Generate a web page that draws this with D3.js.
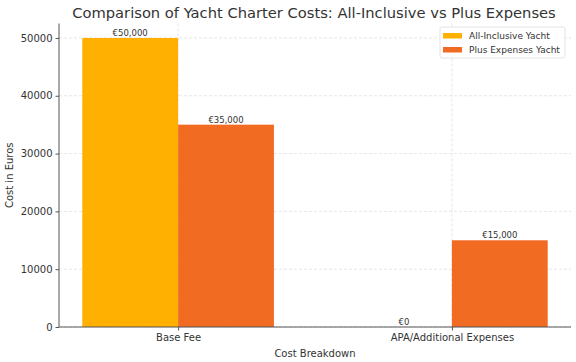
<!DOCTYPE html>
<html>
<head>
<meta charset="utf-8">
<script src="https://cdn.jsdelivr.net/npm/d3@7"></script>
<style>
  body { margin: 0; background: #fff; }
  text { font-family: "DejaVu Sans", sans-serif; fill: #333; }
</style>
</head>
<body>
<div id="chart"></div>
<script>
// Data
var categories = ["Base Fee", "APA/Additional Expenses"];
var seriesNames = ["All-Inclusive Yacht", "Plus Expenses Yacht"];
var allInclusive = [50000, 0];
var plusExpenses = [35000, 15000];
var yTicks = [0, 10000, 20000, 30000, 40000, 50000];
var colors = ["#FFB000", "#F26B22"];

var W = 576, H = 362;
var margin = {top: 23.5, right: 5, bottom: 35, left: 59},
    width = W - margin.left - margin.right,
    height = H - margin.top - margin.bottom;

var svg = d3.select("#chart").append("svg")
    .attr("width", W).attr("height", H);

var g = svg.append("g")
    .attr("transform", "translate(" + margin.left + "," + margin.top + ")");

// x in category units, bars 0.35 wide each side of center
var barW = 0.35;
var x = d3.scaleLinear().domain([-0.435, 1.435]).range([0, width]);
var y = d3.scaleLinear().domain([0, 52500]).range([height, 0]);

// grid
g.selectAll(".hgrid").data(yTicks).enter().append("line")
    .attr("x1", 0).attr("x2", width)
    .attr("y1", function(d) { return y(d); }).attr("y2", function(d) { return y(d); })
    .attr("stroke", "#ddd").attr("stroke-width", 0.7).attr("stroke-dasharray", "3,2");
g.selectAll(".vgrid").data(categories).enter().append("line")
    .attr("x1", function(d, i) { return x(i); }).attr("x2", function(d, i) { return x(i); })
    .attr("y1", 0).attr("y2", height)
    .attr("stroke", "#ddd").attr("stroke-width", 0.7).attr("stroke-dasharray", "3,2");

var series = [allInclusive, plusExpenses];
series.forEach(function(vals, s) {
  var off = s === 0 ? -barW : 0;
  g.selectAll(".bar" + s).data(vals).enter().append("rect")
      .attr("x", function(d, i) { return x(i + off); })
      .attr("width", x(barW) - x(0))
      .attr("y", function(d) { return y(d); })
      .attr("height", function(d) { return height - y(d); })
      .attr("fill", colors[s]);
  g.selectAll(".lab" + s).data(vals).enter().append("text")
      .attr("x", function(d, i) { return x(i + off + barW / 2); })
      .attr("y", function(d) { return y(d) - 2; })
      .attr("text-anchor", "middle")
      .style("font-size", "8.5px")
      .text(function(d) { return "€" + d3.format(",")(d); });
});

// axes
var yAxis = g.append("g")
    .call(d3.axisLeft(y).tickValues(yTicks).tickFormat(d3.format("d")).tickSize(3.5).tickPadding(3));
var xAxis = g.append("g")
    .attr("transform", "translate(0," + height + ")")
    .call(d3.axisBottom(x).tickValues([0, 1]).tickFormat(function(d) { return categories[d]; }).tickSize(3.5).tickPadding(3));
[yAxis, xAxis].forEach(function(a) {
  a.select(".domain").attr("stroke", "#555").attr("stroke-width", 1);
  a.selectAll(".tick line").attr("stroke", "#555");
  a.selectAll(".tick text").style("font-size", "10px").style("font-family", "DejaVu Sans").attr("fill", "#333");
});
xAxis.select(".domain").attr("d", "M0,0H" + width);
yAxis.select(".domain").attr("d", "M0," + height + "V0");

// axis titles
g.append("text")
    .attr("x", width / 2).attr("y", height + 30)
    .attr("text-anchor", "middle").style("font-size", "10px")
    .text("Cost Breakdown");
g.append("text")
    .attr("transform", "rotate(-90)")
    .attr("x", -height / 2).attr("y", -46)
    .attr("text-anchor", "middle").style("font-size", "10px")
    .text("Cost in Euros");

// title
svg.append("text")
    .attr("x", margin.left + width / 2 - 1).attr("y", 18)
    .attr("text-anchor", "middle").style("font-size", "14.7px")
    .text("Comparison of Yacht Charter Costs: All-Inclusive vs Plus Expenses");

// legend
var leg = g.append("g").attr("transform", "translate(" + (width - 131) + ",3.5)");
leg.append("rect")
    .attr("width", 125).attr("height", 31).attr("rx", 2)
    .attr("fill", "#fff").attr("fill-opacity", 0.8)
    .attr("stroke", "#ddd").attr("stroke-width", 0.8);
seriesNames.forEach(function(n, i) {
  leg.append("rect").attr("x", 3).attr("y", 6 + i * 14).attr("width", 19).attr("height", 5.5).attr("fill", colors[i]);
  leg.append("text").attr("x", 29).attr("y", 12 + i * 14).style("font-size", "9px").text(n);
});
</script>
</body>
</html>
